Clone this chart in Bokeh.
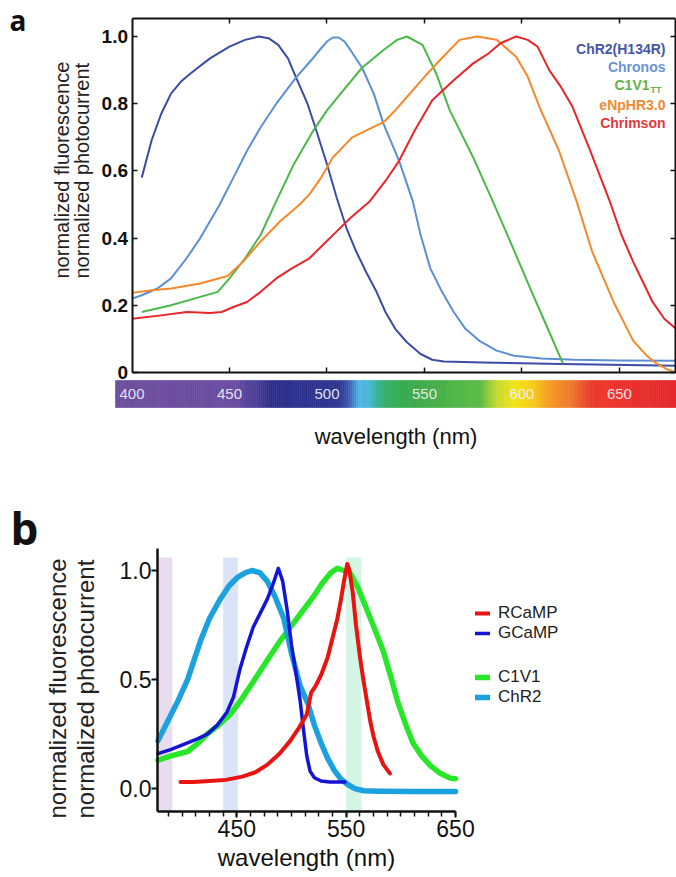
import numpy as np
from bokeh.plotting import figure
from bokeh.layouts import column
from bokeh.models import Range1d, LinearAxis, FixedTicker, Label, Legend, LegendItem
from bokeh.core.properties import value
from bokeh.embed import file_html
from bokeh.resources import INLINE

FONT = "Liberation Sans"
INK = "#111111"

# ---------------- panel a data ----------------
a_xticks = [450, 500, 550, 600, 650]
a_yticks = [0, 0.2, 0.4, 0.6, 0.8, 1.0]
a_ylabels = ["0", "0.2", "0.4", "0.6", "0.8", "1.0"]
cb_label_nm = [400, 450, 500, 550, 600, 650]
cb_label_txt = ["400", "450", "500", "550", "600", "650"]

chr2a_x = [405, 410, 415, 420, 425, 430, 440, 450, 458, 465, 470, 475, 480, 484, 490, 494, 500, 505, 510, 515,
           520, 525, 530, 535, 541, 548, 554, 560, 580, 620, 679]
chr2a_y = [0.58, 0.69, 0.77, 0.83, 0.865, 0.89, 0.935, 0.97, 0.99, 1.0, 0.995, 0.975, 0.935, 0.88, 0.80, 0.73,
           0.62, 0.52, 0.43, 0.36, 0.30, 0.245, 0.18, 0.13, 0.09, 0.055, 0.038, 0.033, 0.03, 0.025, 0.02]

chronos_x = [400, 405, 413, 420, 428, 435, 445, 452, 459, 466, 474, 484, 492, 497, 500, 503, 506, 509, 512, 518,
             524, 529, 533, 537, 544, 548, 553, 559, 565, 571, 578, 587, 596, 610, 627, 650, 679]
chronos_y = [0.22, 0.23, 0.25, 0.28, 0.34, 0.40, 0.50, 0.58, 0.66, 0.73, 0.80, 0.877, 0.93, 0.965, 0.985, 0.997,
             0.997, 0.985, 0.96, 0.907, 0.83, 0.74, 0.685, 0.63, 0.51, 0.41, 0.31, 0.24, 0.18, 0.13, 0.095, 0.065,
             0.05, 0.042, 0.038, 0.036, 0.035]

c1v1a_x = [405, 420, 435, 444, 450, 458, 466, 474, 483, 493, 500, 507, 518, 529, 536, 541, 549, 556, 563, 575,
           585, 595, 605, 613, 621]
c1v1a_y = [0.18, 0.20, 0.225, 0.24, 0.28, 0.34, 0.41, 0.51, 0.62, 0.72, 0.78, 0.83, 0.907, 0.96, 0.99, 1.0,
           0.975, 0.89, 0.78, 0.64, 0.51, 0.376, 0.24, 0.134, 0.027]

enphr_x = [400, 410, 420, 435, 449, 457, 466, 476, 486, 491, 497, 503, 508, 513, 520, 529, 535, 541, 550, 558,
           568, 577, 587, 597, 603, 609, 619, 628, 636, 647, 657, 664, 669, 675, 679]
enphr_y = [0.237, 0.245, 0.25, 0.265, 0.287, 0.33, 0.39, 0.45, 0.50, 0.53, 0.58, 0.64, 0.67, 0.70, 0.72, 0.745,
           0.78, 0.82, 0.88, 0.93, 0.99, 1.0, 0.99, 0.94, 0.88, 0.79, 0.66, 0.51, 0.36, 0.21, 0.095, 0.05, 0.027,
           0.008, 0.0]

chrimson_x = [400, 415, 428, 440, 446, 452, 459, 466, 474, 482, 491, 498, 505, 512, 522, 530, 537, 545, 554, 565,
              575, 583, 589, 597, 603, 608, 614, 620, 626, 635, 645, 651, 657, 662, 667, 673, 679]
chrimson_y = [0.16, 0.17, 0.18, 0.177, 0.18, 0.195, 0.21, 0.24, 0.28, 0.31, 0.34, 0.38, 0.42, 0.46, 0.51, 0.57,
              0.63, 0.72, 0.81, 0.87, 0.92, 0.95, 0.98, 1.0, 0.99, 0.97, 0.90, 0.85, 0.79, 0.66, 0.51, 0.41, 0.33,
              0.27, 0.21, 0.16, 0.13]

a_names = ["ChR2(H134R)", "Chronos", "C1V1", "eNpHR3.0", "Chrimson"]
a_line_colors = ["#3c4ba6", "#5b8fd4", "#4cb84a", "#f5892a", "#e8262a"]
a_text_colors = ["#4656a8", "#6a93d2", "#62b34c", "#f08a30", "#e2383a"]

# colour bar stops (wavelength -> colour)
cb_stop_nm = [391, 452, 463, 472, 506, 511, 516, 521, 526, 532, 545, 578, 587, 596, 606, 614, 626, 635, 679]
cb_stop_col = ["#6b4d9e", "#6a4ca0", "#4b3f9a", "#2c2d8a", "#2d3691", "#3a5cb6", "#4fb5e8", "#49b8d4",
               "#38b08c", "#36ad5c", "#3aaa48", "#5cba46", "#c8da2a", "#f2e614", "#f5c81e", "#f59a24",
               "#f07228", "#ea3a2b", "#e8252a"]

# ---------------- panel b data ----------------
b_xticks = [450, 550, 650]
b_yticks = [0.0, 0.5, 1.0]
b_ylabels = ["0.0", "0.5", "1.0"]

band_left = [378, 437.5, 550]
band_right = [391, 451, 564]
band_colors = ["#e8dcef", "#dbe3f8", "#d4f5e4"]

chr2b_x = [378, 385, 392, 396, 405, 411, 417, 425, 435, 443, 451, 458, 464, 471, 478, 485, 493, 500, 508, 515,
           521, 527, 533, 539, 545, 551, 558, 566, 580, 610, 650]
chr2b_y = [0.22, 0.29, 0.36, 0.40, 0.50, 0.59, 0.68, 0.78, 0.87, 0.93, 0.97, 0.99, 1.00, 0.99, 0.95, 0.88, 0.78,
           0.62, 0.47, 0.39, 0.29, 0.21, 0.14, 0.085, 0.045, 0.02, 0.0, -0.01, -0.012, -0.013, -0.013]

gcamp_x = [378, 390, 405, 415, 423, 432, 441, 447, 453, 459, 465, 471, 478, 484, 488, 492, 496, 500, 505, 508,
           511, 514, 517, 521, 527, 535, 542, 549]
gcamp_y = [0.16, 0.18, 0.21, 0.23, 0.25, 0.29, 0.35, 0.42, 0.55, 0.65, 0.74, 0.80, 0.87, 0.95, 1.01, 0.95, 0.82,
           0.66, 0.50, 0.40, 0.27, 0.15, 0.08, 0.05, 0.035, 0.03, 0.03, 0.03]

c1v1b_x = [378, 390, 405, 415, 423, 433, 444, 453, 465, 478, 490, 502, 511, 520, 528, 536, 542, 548, 554, 561,
           569, 577, 584, 591, 597, 604, 611, 619, 627, 636, 645, 650]
c1v1b_y = [0.13, 0.15, 0.17, 0.21, 0.25, 0.29, 0.34, 0.40, 0.49, 0.59, 0.68, 0.76, 0.82, 0.88, 0.94, 0.99, 1.01,
           1.0, 0.985, 0.92, 0.82, 0.72, 0.63, 0.51, 0.40, 0.30, 0.21, 0.15, 0.105, 0.07, 0.048, 0.045]

rcamp_x = [398.5, 410, 425, 440, 455, 467, 478, 489, 499, 507, 514, 518, 522, 527, 533, 538, 542, 545, 548, 551,
           553, 556, 559, 563, 566, 569, 572, 575, 579, 584, 590]
rcamp_y = [0.03, 0.03, 0.035, 0.04, 0.055, 0.075, 0.11, 0.16, 0.22, 0.28, 0.34, 0.44, 0.47, 0.52, 0.60, 0.70,
           0.78, 0.86, 0.95, 1.03, 1.0, 0.90, 0.75, 0.59, 0.49, 0.40, 0.31, 0.24, 0.17, 0.11, 0.07]

b_names = ["RCaMP", "GCaMP", "C1V1", "ChR2"]
b_line_colors = ["#e8140f", "#1414d4", "#28e628", "#1ba1dd"]
b_widths = [4, 3.5, 5.5, 5.5]


def lab(fig, H, cx, cy, text, **kw):
    """Label at canvas pixel (cx, cy) of a figure whose frame fills the whole canvas."""
    fig.add_layout(Label(x=cx, y=H - cy, x_units="screen", y_units="screen", text=text, **kw))


def blank_axis(ticks):
    return LinearAxis(ticker=FixedTicker(ticks=ticks), major_label_overrides={t: "" for t in ticks})


# ================= panel a (incl. colour bar) =================
W = 676
HA = 470
PXA = 1.9497          # px per nm
X400 = 131.5          # px of 400 nm
Y0, PYA = 372.0, 336.0  # px of y=0, px per unit


def xa(px):
    return 400 + (px - X400) / PXA


def ya(py):
    return (Y0 - py) / PYA


A_XMIN, A_XMAX = 400, xa(675)
A_YMAX = ya(18)

pa = figure(width=W, height=HA, x_range=Range1d(xa(0), xa(W)), y_range=Range1d(ya(HA), ya(0)),
            output_backend="svg", toolbar_location=None, title=None,
            x_axis_location=None, y_axis_location=None,
            min_border_left=0, min_border_right=0, min_border_top=0, min_border_bottom=0)
pa.grid.visible = False
pa.outline_line_color = None
pa.background_fill_color = "white"
pa.border_fill_color = "white"

ax_l = LinearAxis(ticker=FixedTicker(ticks=a_yticks), major_label_overrides=dict(zip(a_yticks, a_ylabels)),
                  fixed_location=A_XMIN, bounds=(0, A_YMAX))
ax_r = blank_axis(a_yticks)
ax_r.fixed_location, ax_r.bounds = A_XMAX, (0, A_YMAX)
ax_t = blank_axis(a_xticks)
ax_t.fixed_location, ax_t.bounds = A_YMAX, (A_XMIN, A_XMAX)
ax_b = blank_axis(a_xticks)
ax_b.fixed_location, ax_b.bounds = 0, (A_XMIN, A_XMAX)
for ax, loc in [(ax_l, "left"), (ax_r, "right"), (ax_t, "above"), (ax_b, "below")]:
    ax.major_tick_in = 5
    ax.major_tick_out = 0
    ax.major_tick_line_width = 1.5
    ax.major_tick_line_color = INK
    ax.axis_line_width = 2
    ax.axis_line_color = INK
    ax.minor_tick_line_color = None
    ax.major_label_text_font = FONT
    ax.major_label_text_font_size = "19px"
    ax.major_label_text_font_style = "bold"
    ax.major_label_text_color = INK
    ax.major_label_standoff = 4
    pa.add_layout(ax, loc)

for xs, ys, col in zip([chr2a_x, chronos_x, c1v1a_x, enphr_x, chrimson_x],
                       [chr2a_y, chronos_y, c1v1a_y, enphr_y, chrimson_y], a_line_colors):
    pa.line(x=xs, y=ys, line_color=col, line_width=2, line_join="round")

# colour bar (below the axis)
wl = np.arange(391.0, 679.5, 1.0)
stops_rgb = np.array([[int(c[i:i + 2], 16) for i in (1, 3, 5)] for c in cb_stop_col], dtype=float)
rgb = np.stack([np.interp(wl, cb_stop_nm, stops_rgb[:, k]) for k in range(3)], axis=1)
cols = ["#%02x%02x%02x" % tuple(int(round(v)) for v in row) for row in rgb]
CB_LEFT = xa(115)
wl_l = np.clip(wl[:-1], CB_LEFT, None)
pa.quad(left=wl_l, right=wl[1:], bottom=ya(407), top=ya(380), fill_color=cols[:-1], line_color=cols[:-1],
        line_width=0.6)
pa.text(x=cb_label_nm, y=[ya(393.5)] * len(cb_label_nm), text=cb_label_txt, text_align="center",
        text_baseline="middle", text_font=value(FONT), text_font_size="15px", text_color="#f2eff8",
        text_alpha=0.92)

# legend texts (right aligned)
leg_y = [48, 66, 84, 104, 122]
for name, col, cy in zip(a_names, a_text_colors, leg_y):
    if name == "C1V1":
        lab(pa, HA, 649, cy, name, text_align="right", text_baseline="middle",
            text_font=FONT, text_font_size="14px", text_font_style="bold", text_color=col)
        lab(pa, HA, 650, cy + 5, "TT", text_align="left", text_baseline="middle",
            text_font=FONT, text_font_size="9px", text_font_style="bold", text_color=col)
    else:
        lab(pa, HA, 665, cy, name, text_align="right", text_baseline="middle",
            text_font=FONT, text_font_size="14px", text_font_style="bold", text_color=col)

lab(pa, HA, 9, 19, "a", text_align="left", text_baseline="alphabetic",
    text_font="Open Sans", text_font_size="28px", text_font_style="bold", text_color=INK)
for cx, txt in [(61, "normalized fluorescence"), (81, "normalized photocurrent")]:
    lab(pa, HA, cx, 278, txt, angle=np.pi / 2, text_align="left", text_baseline="middle",
        text_font=FONT, text_font_size="20px", text_color="#222222")
lab(pa, HA, 395.5, 436, "wavelength (nm)", text_align="center", text_baseline="middle",
    text_font=FONT, text_font_size="22px", text_color=INK)

# ================= panel b =================
HB = 407
PXB = 1.0936
X_B0 = 377.5   # nm at px 157
YB1, PYB = 100.0, 218.1   # local px of y=1.0, px per unit


def xb(px):
    return X_B0 + (px - 157) / PXB


def yb(py):
    return 1.0 - (py - YB1) / PYB


B_XMAX = 650
B_YMIN, B_YMAX = -0.105, 1.10

pb = figure(width=W, height=HB, x_range=Range1d(xb(0), xb(W)), y_range=Range1d(yb(HB), yb(0)),
            output_backend="svg", toolbar_location=None, title=None,
            x_axis_location=None, y_axis_location=None,
            min_border_left=0, min_border_right=0, min_border_top=0, min_border_bottom=0)
pb.grid.visible = False
pb.outline_line_color = None
pb.background_fill_color = "white"
pb.border_fill_color = "white"

pb.quad(left=band_left, right=band_right, bottom=B_YMIN, top=1.06, fill_color=band_colors, line_color=None)

order = [2, 3, 1, 0]  # C1V1, ChR2, GCaMP, RCaMP
series_b = [(rcamp_x, rcamp_y), (gcamp_x, gcamp_y), (c1v1b_x, c1v1b_y), (chr2b_x, chr2b_y)]
rend = {}
for i in order:
    xs, ys = series_b[i]
    rend[i] = pb.line(x=xs, y=ys, line_color=b_line_colors[i], line_width=b_widths[i], line_cap="round",
                      line_join="round")

leg_kw = dict(glyph_width=15, glyph_height=20, label_height=20, spacing=0, padding=0, margin=0,
              label_standoff=8, border_line_alpha=0, background_fill_alpha=0,
              label_text_font=FONT, label_text_font_size="17px", label_text_color="#222222")
leg1 = Legend(items=[LegendItem(label=b_names[0], renderers=[rend[0]]),
                     LegendItem(label=b_names[1], renderers=[rend[1]])],
              location=(475, HB - (643 - 470)), **leg_kw)
leg2 = Legend(items=[LegendItem(label=b_names[2], renderers=[rend[2]]),
                     LegendItem(label=b_names[3], renderers=[rend[3]])],
              location=(475, HB - (707 - 470)), **leg_kw)
pb.add_layout(leg1, "center")
pb.add_layout(leg2, "center")

by = LinearAxis(ticker=FixedTicker(ticks=b_yticks), major_label_overrides=dict(zip(b_yticks, b_ylabels)),
                fixed_location=X_B0, bounds=(B_YMIN, B_YMAX))
bx = LinearAxis(ticker=FixedTicker(ticks=b_xticks, minor_ticks=list(np.arange(387.5, 650.1, 12.5))),
                axis_label="wavelength (nm)", fixed_location=B_YMIN, bounds=(X_B0, B_XMAX))
for ax in (by, bx):
    ax.axis_line_width = 2.5
    ax.axis_line_color = INK
    ax.major_tick_out = 6
    ax.major_tick_in = 0
    ax.major_tick_line_width = 2
    ax.major_tick_line_color = INK
    ax.minor_tick_out = 5
    ax.minor_tick_in = 0
    ax.minor_tick_line_width = 1.5
    ax.minor_tick_line_color = INK
    ax.major_label_text_font = FONT
    ax.major_label_text_font_size = "23px"
    ax.major_label_text_color = INK
    ax.major_label_standoff = 2
by.minor_tick_line_color = None
by.major_label_standoff = 0
bx.axis_label_text_font = FONT
bx.axis_label_text_font_size = "24px"
bx.axis_label_text_font_style = "normal"
bx.axis_label_text_color = INK
bx.axis_label_standoff = 4
pb.add_layout(by, "left")
pb.add_layout(bx, "below")

lab(pb, HB, 10, 527 - 470, "b", text_align="left", text_baseline="alphabetic",
    text_font="Open Sans", text_font_size="44px", text_font_style="bold", text_color=INK)
for cx, txt in [(57, "normalized fluorescence"), (85, "normalized photocurrent")]:
    lab(pb, HB, cx, 818 - 470, txt, angle=np.pi / 2, text_align="left", text_baseline="middle",
        text_font=FONT, text_font_size="24px", text_color="#222222")

layout = column(pa, pb, spacing=0)
open("out.html", "w").write(file_html(layout, INLINE))
